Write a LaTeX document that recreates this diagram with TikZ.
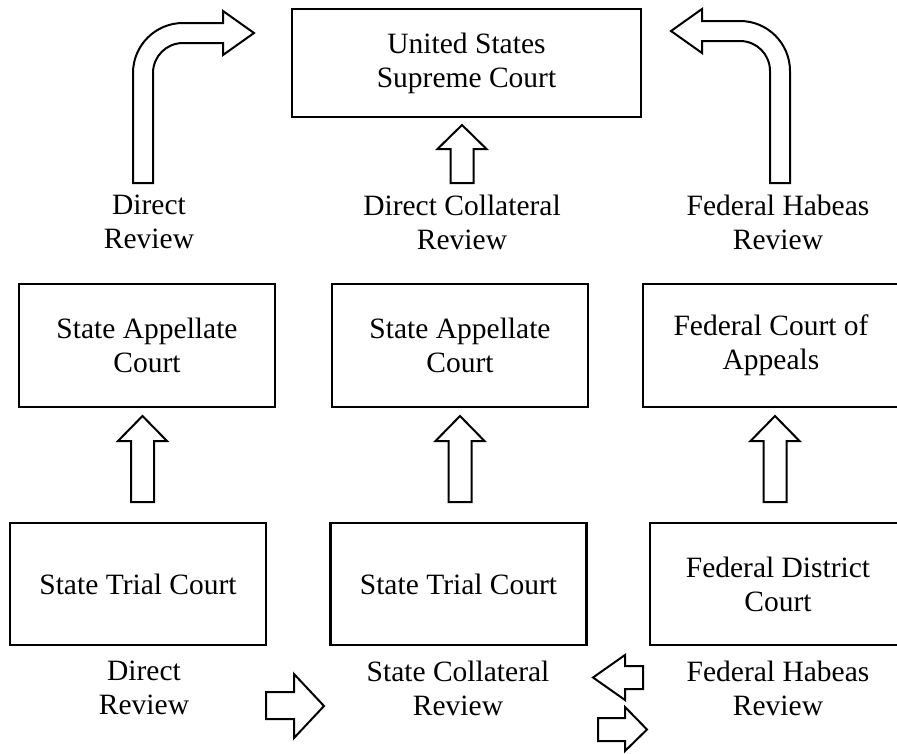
\documentclass[tikz,border=0pt]{standalone}
\usepackage{fontspec}
\setmainfont{Liberation Serif}
\newcommand\lab{\fontsize{29.5}{34}\selectfont}
\begin{document}
\begin{tikzpicture}[x=1pt,y=-1pt,
  box/.style={draw, line width=2.2pt, minimum width=256pt, minimum height=123pt, align=center, font=\lab, inner sep=0pt},
  lbl/.style={align=center, font=\lab, inner sep=0pt},
  barrow/.style={draw, line width=2pt, fill=white, line join=miter}]
\useasboundingbox (0,0) rectangle (897,753);

% boxes
\node[box, minimum width=349pt, minimum height=108pt] (sc) at (466.5,63) {United States\\Supreme Court};
\node[box] (sa1) at (147,345.5) {State Appellate\\Court};
\node[box] (sa2) at (460,345.5) {State Appellate\\Court};
\node[box] (fca) at (771,345.5) {Federal Court of\\Appeals};
\node[box, minimum height=122pt] (st1) at (138,584) {State Trial Court};
\node[box, minimum height=122pt] (st2) at (458.5,584) {State Trial Court};
\node[box, minimum height=122pt] (fdc) at (778,584) {Federal District\\Court};

% labels
\node[lbl] (l1) at (149,222) {Direct\\Review};
\node[lbl] (l2) at (462,222) {Direct Collateral\\Review};
\node[lbl] (l3) at (778,222) {Federal Habeas\\Review};
\node[lbl] (b1) at (144,688) {Direct\\Review};
\node[lbl] (b2) at (458,688) {State Collateral\\Review};
\node[lbl] (b3) at (778,688) {Federal Habeas\\Review};

% curved arrow left
\draw[barrow] (133,183) -- (133,73) .. controls (133,45.4) and (155.4,23) .. (183,23)
  -- (223,23) -- (223,11) -- (254,33) -- (223,55) -- (223,43) -- (183,43)
  .. controls (166.4,43) and (153,56.4) .. (153,73) -- (153,183) -- cycle;
% curved arrow right
\draw[barrow] (790,183) -- (790,71) .. controls (790,43.4) and (767.6,21) .. (740,21)
  -- (702,21) -- (702,9) -- (671,31) -- (702,53) -- (702,41) -- (740,41)
  .. controls (756.6,41) and (770,54.4) .. (770,71) -- (770,183) -- cycle;
% centre up arrow
\draw[barrow] (450.5,183) -- (450.5,149) -- (437.5,149) -- (462,125) -- (486.5,149) -- (473.5,149) -- (473.5,183) -- cycle;
% up arrows between rows
\foreach \c/\n in {142.5/u1,460/u2,775/u3}{
  \draw[barrow] (\c-11.5,502) -- (\c-11.5,441) -- (\c-24.5,441) -- (\c,416) -- (\c+24.5,441) -- (\c+11.5,441) -- (\c+11.5,502) -- cycle;
}
% bottom arrows
\draw[barrow] (266,692) -- (294,692) -- (294,674) -- (324,706) -- (294,738) -- (294,719) -- (266,719) -- cycle;
\draw[barrow] (643,666) -- (625,666) -- (625,655) -- (593,677.5) -- (625,700) -- (625,689) -- (643,689) -- cycle;
\draw[barrow] (598,718) -- (625,718) -- (625,707) -- (647,729.5) -- (625,751) -- (625,741) -- (598,741) -- cycle;
\end{tikzpicture}
\end{document}
